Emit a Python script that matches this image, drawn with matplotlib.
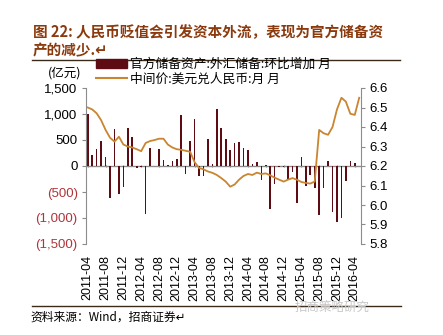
import matplotlib
matplotlib.use("Agg")
import matplotlib.pyplot as plt
from matplotlib.patches import Patch
from matplotlib.lines import Line2D
import numpy as np

plt.rcParams["font.family"] = ["Liberation Sans", "Noto Sans CJK SC", "DejaVu Sans"]
CJK = ["Noto Sans CJK SC", "DejaVu Sans"]

# monthly, 2011-04 .. 2016-05
months = [f"{y}-{m:02d}" for y in range(2011, 2017) for m in range(1, 13)]
months = months[months.index("2011-04"):months.index("2016-05") + 1]

# 官方储备资产:外汇储备:环比增加 (亿元), 2016-05 not yet reported
reserve_change = [
    1000, 205, 320, 475, 167, -608, 718, -530, -396, 724,
    557, -30, -25, -928, 340, 5, 334, 115, 10, 96,
    140, 990, -146, 480, 910, -185, -185, 510, 45, 1100,
    737, 525, 310, 445, 467, 339, 300, 45, 82, -275,
    25, -820, -342, -25, -20, -246, -115, -717, 177, -375,
    -170, -426, -948, -432, 100, -877, -1080, -995, -290, 93,
    60, np.nan,
]

# 中间价:美元兑人民币
usdcny = [
    6.50, 6.49, 6.47, 6.435, 6.385, 6.345, 6.325, 6.35, 6.31, 6.30,
    6.295, 6.286, 6.276, 6.318, 6.328, 6.333, 6.34, 6.34, 6.31, 6.295,
    6.286, 6.283, 6.278, 6.273, 6.22, 6.19, 6.183, 6.172, 6.165, 6.154,
    6.138, 6.12, 6.094, 6.105, 6.13, 6.149, 6.159, 6.154, 6.166, 6.159,
    6.162, 6.152, 6.14, 6.13, 6.12, 6.13, 6.138, 6.13, 6.118, 6.113,
    6.11, 6.12, 6.385, 6.368, 6.36, 6.40, 6.49, 6.55, 6.53, 6.468,
    6.462, 6.55,
]

left_ticks = [-1500, -1000, -500, 0, 500, 1000, 1500]
right_ticks = [5.8, 5.9, 6.0, 6.1, 6.2, 6.3, 6.4, 6.5, 6.6]

bar_color = "#5e0b14"
line_color = "#c98530"
axis_gray = "#8c8c8c"
neg_red = "#b0343a"
title_color = "#8b3a0e"

W, H = 443, 335
fig = plt.figure(figsize=(W / 100, H / 100), dpi=100)
fig.patch.set_facecolor("white")

ax = fig.add_axes([86 / W, 1 - 244 / H, 275 / W, 156 / H])
x = np.arange(len(months))
ax.bar(x, reserve_change, width=0.35, color=bar_color, zorder=2)
ax.axhline(0, color=axis_gray, lw=0.8, zorder=1)
ax.set_xlim(-0.4, len(months) - 0.6)
ax.set_ylim(-1500, 1500)
ax.set_yticks(left_ticks)


def fmt_left(v):
    s = f"{abs(v):,}"
    return f"({s})" if v < 0 else s


ax.set_yticklabels([fmt_left(v) for v in left_ticks])
for lab, v in zip(ax.get_yticklabels(), left_ticks):
    lab.set_color(neg_red if v < 0 else "black")

tick_idx = list(range(0, len(months), 4))
ax.set_xticks(tick_idx)
ax.set_xticklabels([months[i] for i in tick_idx], rotation=90, fontsize=9)
ax.tick_params(axis="x", length=0, pad=8)
ax.tick_params(axis="y", labelsize=9.5, length=3, color=axis_gray, pad=3)

# small tick marks on the zero line
sec = ax.secondary_xaxis(0.5)
sec.set_xticks(tick_idx)
sec.set_xticklabels([])
sec.tick_params(length=2, direction="inout", color=axis_gray)
sec.spines["bottom"].set_visible(False)

for s in ["top", "bottom", "right"]:
    ax.spines[s].set_visible(False)
ax.spines["left"].set_color(axis_gray)

ax2 = ax.twinx()
ax2.plot(x, usdcny, color=line_color, lw=1.3)
ax2.set_ylim(5.8, 6.6)
ax2.set_yticks(right_ticks)
ax2.set_yticklabels([f"{v:.1f}" for v in right_ticks])
ax2.tick_params(axis="y", labelsize=9.5, length=3, color=axis_gray, pad=3)
for s in ["top", "bottom", "left"]:
    ax2.spines[s].set_visible(False)
ax2.spines["right"].set_color(axis_gray)

# legend
handles = [Patch(facecolor=bar_color, edgecolor=bar_color),
           Line2D([0], [0], color=line_color, lw=1.5)]
labels = ["官方储备资产:外汇储备:环比增加 月", "中间价:美元兑人民币:月 月"]
fig.legend(handles, labels, loc="upper left", bbox_to_anchor=(96 / W, 1 - 58 / H),
           frameon=False, handlelength=2.4, handleheight=0.6, handletextpad=0.3,
           labelspacing=0.1, borderaxespad=0, borderpad=0,
           prop={"family": CJK, "size": 9.2})

fig.text(48 / W, 1 - 73 / H, "(亿元)", family=CJK, fontsize=9, va="center")

# title
fig.text(33 / W, 1 - 32 / H, "图 22: 人民币贬值会引发资本外流，表现为官方储备资",
         family=CJK, fontsize=10.5, fontweight="bold", color=title_color, va="center")
fig.text(33 / W, 1 - 50 / H, "产的减少.↵",
         family=CJK, fontsize=10.5, fontweight="bold", color=title_color, va="center")
fig.add_artist(Line2D([32 / W, 400 / W], [1 - 59.5 / H, 1 - 59.5 / H],
                      color="#3a2a1a", lw=1))

# footer
fig.add_artist(Line2D([32 / W, 401 / W], [1 - 306 / H, 1 - 306 / H],
                      color="#3a2a1a", lw=1))
fig.text(30 / W, 1 - 317 / H, "资料来源：Wind，招商证券↵", family=CJK,
         fontsize=8.5, va="center")
fig.text(295 / W, 1 - 307 / H, "招商策略研究", family=CJK, fontsize=9,
         color="#c8c8c8", va="center")

fig.savefig("out.png", dpi=100, facecolor="white")
